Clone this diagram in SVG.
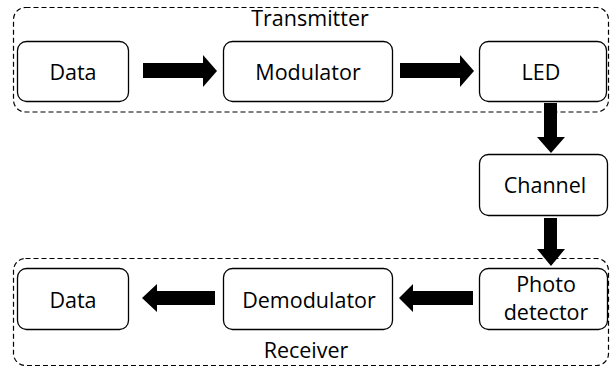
<svg xmlns="http://www.w3.org/2000/svg" width="611" height="372" viewBox="0 0 611 372">
  <style>
    .group { fill: none; stroke: #000; stroke-width: 1.2; stroke-dasharray: 5 3; }
    .box { fill: #fff; stroke: #000; stroke-width: 1.3; }
    .label { font-family: "Open Sans", "Noto Sans", sans-serif; font-size: 21.5px; fill: #000; text-anchor: middle; }
    .arrow { fill: #000; stroke: none; }
  </style>

  <!-- Transmitter / Receiver groupings -->
  <g id="transmitter">
    <rect class="group" x="13.5" y="7.5" width="595" height="104.5" rx="12"/>
    <text class="label" x="310" y="26">Transmitter</text>
  </g>
  <g id="receiver">
    <rect class="group" x="13.5" y="258.5" width="595" height="107" rx="12"/>
    <text class="label" x="306" y="358">Receiver</text>
  </g>

  <!-- Transmitter chain -->
  <g id="data-tx">
    <rect class="box" x="17.5" y="41.5" width="111" height="60" rx="9"/>
    <text class="label" x="73" y="80">Data</text>
  </g>
  <g id="modulator">
    <rect class="box" x="223.5" y="41.5" width="169" height="60" rx="9"/>
    <text class="label" x="308" y="80">Modulator</text>
  </g>
  <g id="led">
    <rect class="box" x="479.5" y="41.5" width="127" height="60" rx="9"/>
    <text class="label" x="541" y="80">LED</text>
  </g>

  <!-- Optical channel -->
  <g id="channel">
    <rect class="box" x="479.5" y="154.5" width="128" height="61" rx="9"/>
    <text class="label" x="545" y="193">Channel</text>
  </g>

  <!-- Receiver chain -->
  <g id="photodetector">
    <rect class="box" x="479.5" y="268.5" width="128" height="61" rx="9"/>
    <text class="label" x="546" y="292">Photo</text>
    <text class="label" x="546" y="320">detector</text>
  </g>
  <g id="demodulator">
    <rect class="box" x="223.5" y="268.5" width="169" height="61" rx="9"/>
    <text class="label" x="309" y="308">Demodulator</text>
  </g>
  <g id="data-rx">
    <rect class="box" x="17.5" y="268.5" width="111" height="61" rx="9"/>
    <text class="label" x="73" y="308">Data</text>
  </g>

  <!-- Block arrows -->
  <g id="connectors">
    <polygon class="arrow" points="143,63 203,63 203,55 217,71 203,87 203,78 143,78"/>
    <polygon class="arrow" points="400,63 460,63 460,55 474,71 460,87 460,78 400,78"/>
    <polygon class="arrow" points="544,103 557,103 557,137 565,137 551,153 537,137 544,137"/>
    <polygon class="arrow" points="544,218 557,218 557,249 565,249 551,266 537,249 544,249"/>
    <polygon class="arrow" points="473,291 413,291 413,284 399,298 413,312 413,305 473,305"/>
    <polygon class="arrow" points="215,291 157,291 157,284 142,298 157,312 157,305 215,305"/>
  </g>
</svg>
